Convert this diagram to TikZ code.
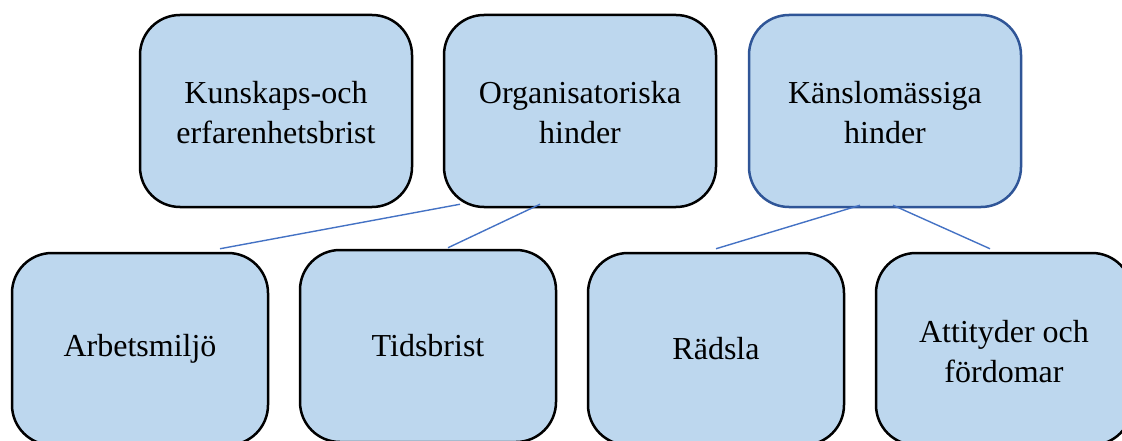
\documentclass[tikz,border=0pt]{standalone}
\usepackage{fontspec}
\setmainfont{Liberation Serif}
\definecolor{boxfill}{HTML}{BDD7EE}
\definecolor{boxedge}{HTML}{2F5597}
\definecolor{linkblue}{HTML}{4472C4}
\newcommand{\boxlabel}[2]{\raisebox{#1}[\height][\depth]{\begin{tabular}{@{}c@{}}#2\end{tabular}}}
\begin{document}
\begin{tikzpicture}
    [%%%%%%%%%%%%%%%%%%%%%%%%%%%%%%
        x=1pt, y=-1pt,
        hbox/.style={rectangle, rounded corners=40pt, draw=black, line width=2.5pt,
            fill=boxfill, align=center, inner sep=0pt,
            font=\fontsize{32}{40}\selectfont},
        topbox/.style={hbox, minimum width=272pt, minimum height=192pt},
        lowbox/.style={hbox, minimum width=256pt, minimum height=192pt},
        link/.style={draw=linkblue, line width=1.4pt},
    ]%%%%%%%%%%%%%%%%%%%%%%%%%%%%%%
\useasboundingbox (0,0) rectangle (1122,441);

\node[topbox] (kunskap) at (276,111) {\boxlabel{-5pt}{Kunskaps-och\\erfarenhetsbrist}};
\node[topbox] (org) at (580,111) {\boxlabel{-5pt}{Organisatoriska\\hinder}};
\node[topbox, draw=boxedge] (kansla) at (885,111) {\boxlabel{-5pt}{Känslomässiga\\hinder}};

\node[lowbox] (arbets) at (140,349) {Arbetsmiljö};
\node[lowbox] (tids) at (428,346) {Tidsbrist};
\node[lowbox] (radsla) at (716,349) {Rädsla};
\node[lowbox] (attityd) at (1004,349) {\boxlabel{-5pt}{Attityder och\\fördomar}};

\draw[link] ([xshift=-120pt,yshift=4pt]org.south) -- ([xshift=80pt,yshift=3pt]arbets.north);
\draw[link] ([xshift=-40pt,yshift=4pt]org.south) -- ([xshift=20pt,yshift=1pt]tids.north);
\draw[link] ([xshift=-25pt,yshift=3pt]kansla.south) -- ([yshift=3pt]radsla.north);
\draw[link] ([xshift=8pt,yshift=3pt]kansla.south) -- ([xshift=-14pt,yshift=3pt]attityd.north);

\end{tikzpicture}
\end{document}
